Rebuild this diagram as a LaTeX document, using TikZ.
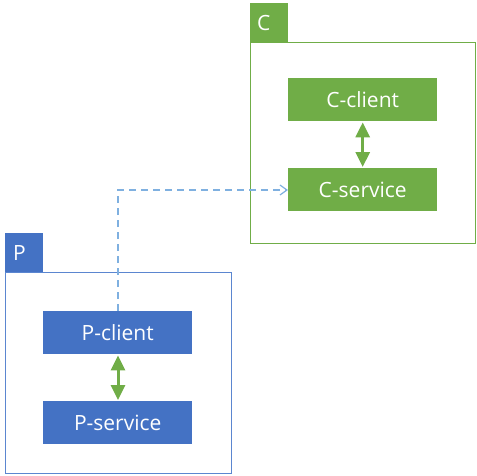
\documentclass[tikz,border=0pt]{standalone}
\usepackage{fontspec}
\setmainfont{Open Sans}
\usetikzlibrary{arrows.meta}
\definecolor{cgreen}{HTML}{70AD47}
\definecolor{pblue}{HTML}{4472C4}
\definecolor{pframe}{HTML}{5B86D0}
\definecolor{dashblue}{HTML}{7FB0E0}
\begin{document}
\begin{tikzpicture}[x=1pt,y=-1pt,
  comp/.style={minimum width=149pt,minimum height=43pt,inner sep=0pt,text=white,font=\fontsize{21}{24}\selectfont,anchor=north west},
  tabbox/.style={minimum width=38pt,minimum height=39pt,inner sep=0pt,anchor=north west},
  tablabel/.style={text=white,font=\fontsize{21}{24}\selectfont,inner sep=0pt,anchor=west},
  dbl/.style={cgreen,line width=3pt,{Triangle[width=14pt,length=15pt]}-{Triangle[width=14pt,length=15pt]},shorten >=1pt,shorten <=1pt}
]
\useasboundingbox (0,0) rectangle (477,475);
% C package
\node[tabbox,fill=cgreen] (ctab) at (250,3) {};
\node[tablabel] (clab) at (257,22.5) {C};
\node[draw=cgreen,line width=0.8pt,minimum width=225pt,minimum height=201pt,inner sep=0pt,anchor=north west] (cframe) at (250,42) {};
\node[comp,fill=cgreen] (cclient) at (288,78) {C-client};
\node[comp,fill=cgreen] (cservice) at (288,168) {C-service};
\draw[dbl] (cclient.south) -- (cservice.north);
% P package
\node[tabbox,fill=pblue] (ptab) at (5,233) {};
\node[tablabel] (plab) at (13,252.5) {P};
\node[draw=pframe,line width=0.8pt,minimum width=226pt,minimum height=201pt,inner sep=0pt,anchor=north west] (pframe) at (5,272) {};
\node[comp,fill=pblue] (pclient) at (43,311) {P-client};
\node[comp,fill=pblue] (pservice) at (43,401) {P-service};
\draw[dbl] (pclient.south -| 118,0) -- (pservice.north -| 118,0);
% dashed dependency
\coordinate (bend) at (118,190);
\draw[dashblue,line width=1.2pt,dash pattern=on 7pt off 5pt,-{Straight Barb[length=7pt,width=10pt]}] (pclient.north -| bend) -- (bend) -- (bend -| cservice.west);
\end{tikzpicture}
\end{document}
